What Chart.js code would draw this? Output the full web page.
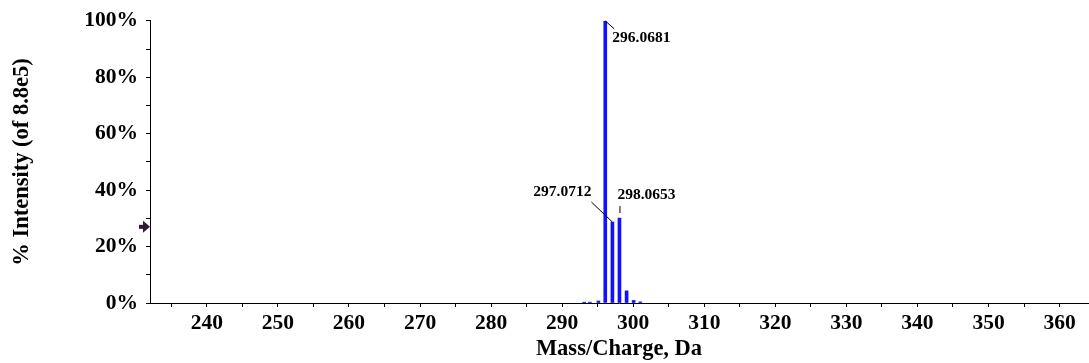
<!DOCTYPE html>
<html>
<head>
<meta charset="utf-8">
<script src="https://cdn.jsdelivr.net/npm/chart.js@4.4.1/dist/chart.umd.min.js"></script>
<style>
    body { margin: 0; background: #fff; }
    #contenedor { width: 1089px; height: 363px; position: relative; }
</style>
</head>
<body>
<div id="contenedor"><canvas id="chart-espectro"></canvas></div>
<script>
// picos del espectro (m/z, % intensidad)
const masas = [293.1, 293.9, 295.1, 296.0681, 297.0712, 298.0653, 299.07, 300.06, 301.0];
const intensidades = [0.3, 0.3, 0.7, 100, 28.7, 30.1, 4.3, 0.9, 0.4];

const picosEtiquetados = ['296.0681', '297.0712', '298.0653'];
const marcadorY = 27;

const ejeXMin = 232;
const ejeXMax = 364;

const fuente = 'Liberation Serif, Times New Roman, serif';

const etiquetasPlugin = {
    id: 'etiquetasPicos',
    afterDatasetsDraw(chart) {
        const { ctx, scales: { x, y } } = chart;
        ctx.save();
        ctx.font = 'bold 15.5px ' + fuente;
        ctx.fillStyle = '#000';
        ctx.strokeStyle = '#000';
        ctx.lineWidth = 1;
        ctx.textBaseline = 'middle';

        picosEtiquetados.forEach((txt, i) => {
            const m = parseFloat(txt);
            const idx = masas.indexOf(m);
            const px = x.getPixelForValue(m);
            const py = y.getPixelForValue(intensidades[idx]);
            ctx.beginPath();
            if (i === 0) {
                ctx.moveTo(px, py);
                ctx.lineTo(px + 9, py + 8);
                ctx.stroke();
                ctx.textAlign = 'left';
                ctx.fillText(txt, px + 7, py + 17);
            } else if (i === 1) {
                ctx.moveTo(px - 21, py - 20);
                ctx.lineTo(px, py);
                ctx.stroke();
                ctx.textAlign = 'right';
                ctx.fillText(txt, px - 21, py - 30);
            } else {
                ctx.moveTo(px + 0.5, py - 12);
                ctx.lineTo(px + 0.5, py - 5);
                ctx.stroke();
                ctx.textAlign = 'left';
                ctx.fillText(txt, px - 2, py - 23);
            }
        });

        // flecha del marcador sobre el eje Y
        const ax = chart.chartArea.left;
        const ay = y.getPixelForValue(marcadorY);
        ctx.fillStyle = '#2b1d2b';
        ctx.beginPath();
        ctx.moveTo(ax, ay);
        ctx.lineTo(ax - 7, ay - 6);
        ctx.lineTo(ax - 7, ay + 6);
        ctx.closePath();
        ctx.fill();
        ctx.fillRect(ax - 11, ay - 2, 4, 4);
        ctx.restore();
    }
};

function initEspectro() {
    const ctx = document.getElementById('chart-espectro');
    new Chart(ctx, {
        type: 'bar',
        data: {
            datasets: [{
                data: masas.map((m, i) => ({ x: m, y: intensidades[i] })),
                backgroundColor: '#1212ff',
                borderWidth: 0,
                barThickness: 3
            }]
        },
        options: {
            responsive: true,
            maintainAspectRatio: false,
            animation: false,
            layout: { padding: { top: 20, right: 1, left: 0, bottom: 0 } },
            plugins: {
                legend: { display: false },
                tooltip: { enabled: false }
            },
            scales: {
                x: {
                    type: 'linear',
                    offset: false,
                    min: ejeXMin,
                    max: ejeXMax,
                    afterFit: s => { s.height = 60; },
                    border: { display: true, color: '#000', width: 1 },
                    grid: { offset: false, drawOnChartArea: false, drawTicks: true, tickLength: 4, color: '#000' },
                    ticks: {
                        stepSize: 5,
                        includeBounds: false,
                        autoSkip: false,
                        maxRotation: 0,
                        padding: 4,
                        color: '#000',
                        font: { family: fuente, size: 21.5, weight: 'bold' },
                        callback: v => (v % 10 === 0 ? v : '')
                    },
                    title: {
                        display: true,
                        text: 'Mass/Charge, Da',
                        color: '#000',
                        font: { family: fuente, size: 22.5, weight: 'bold' },
                        padding: { top: 0, bottom: 0 }
                    }
                },
                y: {
                    min: 0,
                    max: 100,
                    afterFit: s => { s.width = 150; },
                    border: { display: true, color: '#000', width: 1 },
                    grid: { drawOnChartArea: false, drawTicks: true, tickLength: 4, color: '#000' },
                    ticks: {
                        stepSize: 10,
                        autoSkip: false,
                        padding: 8,
                        color: '#000',
                        font: { family: fuente, size: 21.5, weight: 'bold' },
                        callback: v => (v % 20 === 0 ? v + '%' : '')
                    },
                    title: {
                        display: true,
                        text: '% Intensity (of 8.8e5)',
                        color: '#000',
                        font: { family: fuente, size: 22.5, weight: 'bold' },
                        padding: { top: 9, bottom: 0 }
                    }
                }
            }
        },
        plugins: [etiquetasPlugin]
    });
}

initEspectro();
</script>
</body>
</html>
